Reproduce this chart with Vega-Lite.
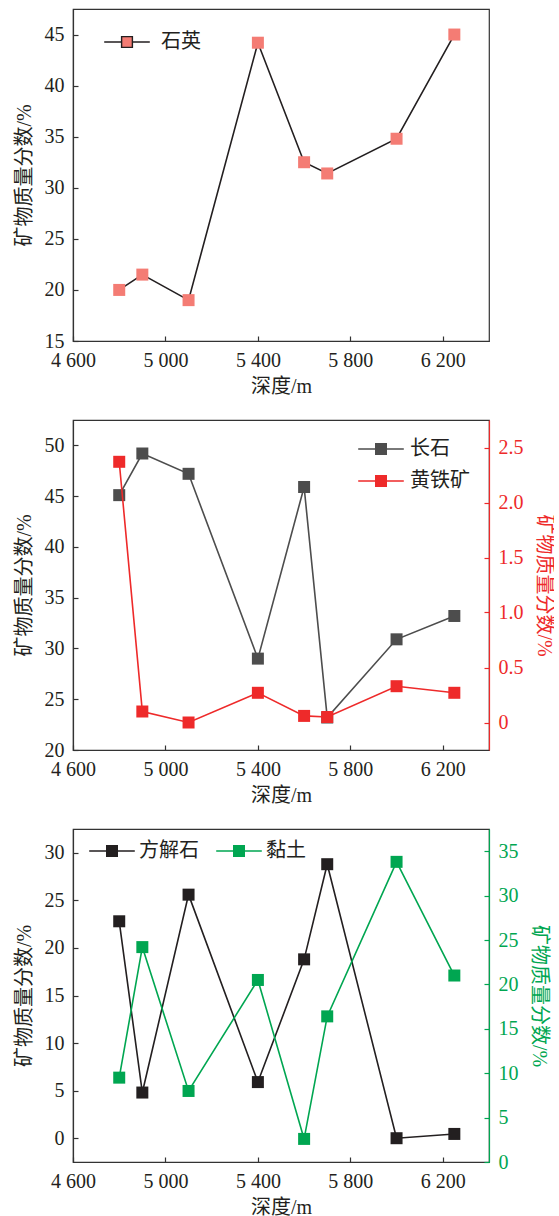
{
  "$schema": "https://vega.github.io/schema/vega-lite/v6.json",
  "padding": {"left": 13, "top": 8, "right": 0, "bottom": 0},
  "autosize": {"type": "pad"},
  "background": "white",
  "datasets": {
    "minerals": [
      {"depth": 4800, "quartz": 20.0, "feldspar": 45.1, "pyrite": 2.37, "calcite": 22.8, "clay": 9.5},
      {"depth": 4900, "quartz": 21.5, "feldspar": 49.2, "pyrite": 0.10, "calcite": 4.8, "clay": 24.2},
      {"depth": 5100, "quartz": 19.0, "feldspar": 47.2, "pyrite": 0.00, "calcite": 25.6, "clay": 8.0},
      {"depth": 5400, "quartz": 44.2, "feldspar": 29.0, "pyrite": 0.27, "calcite": 5.9, "clay": 20.5},
      {"depth": 5600, "quartz": 32.5, "feldspar": 45.9, "pyrite": 0.06, "calcite": 18.8, "clay": 2.6},
      {"depth": 5700, "quartz": 31.4, "feldspar": 23.2, "pyrite": 0.05, "calcite": 28.8, "clay": 16.4},
      {"depth": 6000, "quartz": 34.8, "feldspar": 30.9, "pyrite": 0.33, "calcite": 0.0, "clay": 33.8},
      {"depth": 6250, "quartz": 45.0, "feldspar": 33.2, "pyrite": 0.27, "calcite": 0.45, "clay": 21.0}
    ]
  },
  "data": {"name": "minerals"},
  "spacing": 79,
  "bounds": "flush",
  "resolve": {"scale": {"color": "independent"}, "legend": {"color": "independent"}},
  "vconcat": [
    {
      "width": 416,
      "height": 332,
      "encoding": {
        "x": {"field": "depth", "type": "quantitative", "title": "深度/m",
              "scale": {"domain": [4600, 6400], "nice": false, "zero": false},
              "axis": {"values": [4600, 5000, 5400, 5800, 6200], "labelExpr": "floor(datum.value/1000) + ' ' + format(datum.value % 1000, '03d')"}},
        "y": {"field": "quartz", "type": "quantitative", "title": "矿物质量分数/%",
              "scale": {"domain": [15, 47.5], "nice": false, "zero": false},
              "axis": {"values": [15, 20, 25, 30, 35, 40, 45]}}
      },
      "layer": [
        {"mark": {"type": "line", "color": "#231f20", "strokeWidth": 1.6}},
        {"mark": {"type": "point", "shape": "square", "filled": true, "size": 144, "opacity": 1},
         "encoding": {"color": {"datum": "石英", "type": "nominal",
            "scale": {"domain": ["石英"], "range": ["#f47c74"]},
            "legend": {"orient": "none", "legendX": 44, "legendY": 23, "title": null, "padding": 0,
              "symbolType": "M-3.8,0H-1M1,0H3.8M-0.9,-0.9H0.9V0.9H-0.9Z",
              "symbolSize": 144, "symbolStrokeColor": "#231f20", "symbolStrokeWidth": 1.4, "symbolOpacity": 1,
              "labelFont": "Noto Sans CJK SC", "labelFontSize": 20, "labelColor": "#231f20", "labelOffset": 24}}}}
      ]
    },
    {
      "width": 416,
      "height": 330,
      "encoding": {
        "x": {"field": "depth", "type": "quantitative", "title": "深度/m",
              "scale": {"domain": [4600, 6400], "nice": false, "zero": false},
              "axis": {"values": [4600, 5000, 5400, 5800, 6200], "labelExpr": "floor(datum.value/1000) + ' ' + format(datum.value % 1000, '03d')"}}
      },
      "layer": [
        {
          "encoding": {
            "y": {"field": "feldspar", "type": "quantitative", "title": "矿物质量分数/%",
                  "scale": {"domain": [20, 52.5], "nice": false, "zero": false},
                  "axis": {"values": [20, 25, 30, 35, 40, 45, 50]}}
          },
          "layer": [
            {"mark": {"type": "line", "color": "#4d4d4d", "strokeWidth": 1.6}},
            {"mark": {"type": "point", "shape": "square", "filled": true, "size": 144, "opacity": 1},
             "encoding": {"color": {"datum": "长石", "type": "nominal",
                "scale": {"domain": ["长石", "黄铁矿"], "range": ["#4d4d4d", "#ee2a2a"]},
                "legend": {"orient": "none", "legendX": 298, "legendY": 19, "title": null, "padding": 0,
                  "symbolType": "M-3.8,-0.13H-1V0.13H-3.8ZM1,-0.13H3.8V0.13H1ZM-1,-1H1V1H-1Z",
                  "symbolSize": 144, "symbolStrokeWidth": 0, "symbolOpacity": 1, "rowPadding": 12,
                  "labelFont": "Noto Sans CJK SC", "labelFontSize": 20, "labelColor": "#231f20", "labelOffset": 19}}}}
          ]
        },
        {
          "encoding": {
            "y": {"field": "pyrite", "type": "quantitative", "title": "矿物质量分数/%",
                  "scale": {"domain": [-0.25, 2.75], "nice": false, "zero": false},
                  "axis": {"orient": "right", "values": [0, 0.5, 1, 1.5, 2, 2.5],
                           "labelExpr": "datum.value == 0 ? '0' : format(datum.value, '.1f')",
                           "domainColor": "#ee2a2a", "tickColor": "#ee2a2a", "labelColor": "#ee2a2a", "titleColor": "#ee2a2a"}}
          },
          "layer": [
            {"mark": {"type": "line", "color": "#ee2a2a", "strokeWidth": 1.6}},
            {"mark": {"type": "point", "shape": "square", "filled": true, "size": 144, "opacity": 1},
             "encoding": {"color": {"datum": "黄铁矿", "type": "nominal"}}}
          ]
        }
      ],
      "resolve": {"scale": {"y": "independent"}}
    },
    {
      "width": 416,
      "height": 333,
      "encoding": {
        "x": {"field": "depth", "type": "quantitative", "title": "深度/m",
              "scale": {"domain": [4600, 6400], "nice": false, "zero": false},
              "axis": {"values": [4600, 5000, 5400, 5800, 6200], "labelExpr": "floor(datum.value/1000) + ' ' + format(datum.value % 1000, '03d')"}}
      },
      "layer": [
        {
          "encoding": {
            "y": {"field": "calcite", "type": "quantitative", "title": "矿物质量分数/%",
                  "scale": {"domain": [-2.5, 32.5], "nice": false, "zero": false},
                  "axis": {"values": [0, 5, 10, 15, 20, 25, 30]}}
          },
          "layer": [
            {"mark": {"type": "line", "color": "#231f20", "strokeWidth": 1.6}},
            {"mark": {"type": "point", "shape": "square", "filled": true, "size": 144, "opacity": 1},
             "encoding": {"color": {"datum": "方解石", "type": "nominal",
                "scale": {"domain": ["方解石", "黏土"], "range": ["#231f20", "#00a651"]},
                "legend": {"orient": "none", "legendX": 29, "legendY": 12, "title": null, "padding": 0,
                  "direction": "horizontal", "columns": 2, "columnPadding": 17,
                  "symbolType": "M-3.8,-0.13H-1V0.13H-3.8ZM1,-0.13H3.8V0.13H1ZM-1,-1H1V1H-1Z",
                  "symbolSize": 144, "symbolStrokeWidth": 0, "symbolOpacity": 1,
                  "labelFont": "Noto Sans CJK SC", "labelFontSize": 20, "labelColor": "#231f20", "labelOffset": 17}}}}
          ]
        },
        {
          "encoding": {
            "y": {"field": "clay", "type": "quantitative", "title": "矿物质量分数/%",
                  "scale": {"domain": [0, 37.5], "nice": false, "zero": false},
                  "axis": {"orient": "right", "values": [0, 5, 10, 15, 20, 25, 30, 35],
                           "domainColor": "#00a651", "tickColor": "#00a651", "labelColor": "#00a651", "titleColor": "#00a651"}}
          },
          "layer": [
            {"mark": {"type": "line", "color": "#00a651", "strokeWidth": 1.6}},
            {"mark": {"type": "point", "shape": "square", "filled": true, "size": 144, "opacity": 1},
             "encoding": {"color": {"datum": "黏土", "type": "nominal"}}}
          ]
        }
      ],
      "resolve": {"scale": {"y": "independent"}}
    }
  ],
  "config": {
    "view": {"stroke": "#333333", "strokeWidth": 1.2},
    "axis": {
      "grid": false,
      "domainColor": "#333333", "domainWidth": 1.2,
      "tickColor": "#333333", "tickSize": -5, "tickWidth": 1.2,
      "labelPadding": 14, "labelFont": "Liberation Serif", "labelFontSize": 20, "labelColor": "#231f20",
      "labelFlush": false, "labelOverlap": false,
      "titleFont": "Liberation Serif, Noto Sans CJK SC", "titleFontSize": 20, "titleFontWeight": "normal", "titleColor": "#231f20",
      "titlePadding": 10
    },
    "axisX": {"titlePadding": 6}
  }
}
